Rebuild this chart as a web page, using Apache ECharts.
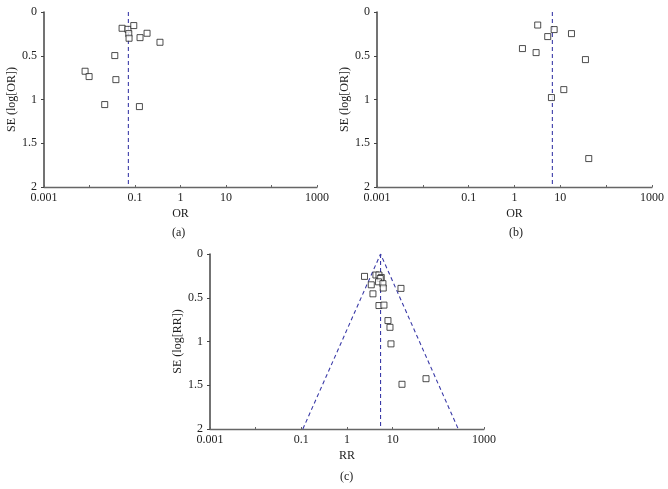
<!DOCTYPE html>
<html>
<head>
<meta charset="utf-8">
<script src="https://cdn.jsdelivr.net/npm/echarts@6/dist/echarts.min.js"></script>
<style>
  html, body { margin: 0; padding: 0; background: #fff; }
  #main { width: 668px; height: 489px; }
</style>
</head>
<body>
<div id="main"></div>
<script>
// (a) OR vs SE(log[OR])
var orA = [0.052, 0.070, 0.094, 0.073, 0.074, 0.129, 0.184, 0.354, 0.036, 0.0080, 0.0098, 0.038, 0.0216, 0.125];
var seA = [0.186, 0.198, 0.155, 0.247, 0.300, 0.293, 0.243, 0.346, 0.498, 0.677, 0.738, 0.773, 1.058, 1.081];
var pooledA = 0.0715;

// (b)
var orB = [3.21, 7.33, 5.31, 17.5, 1.49, 2.96, 35.3, 11.9, 6.4, 41.7];
var seB = [0.149, 0.201, 0.281, 0.247, 0.418, 0.464, 0.544, 0.887, 0.978, 1.675];
var pooledB = 6.7;

// (c) RR vs SE(log[RR])
var rrC = [2.42, 4.30, 5.01, 5.62, 5.35, 4.91, 3.40, 6.12, 6.22, 3.70, 15.2, 5.01, 6.44, 7.89, 8.73, 9.18, 16.0, 53.7];
var seC = [0.256, 0.240, 0.240, 0.268, 0.280, 0.318, 0.352, 0.339, 0.389, 0.455, 0.393, 0.589, 0.584, 0.761, 0.838, 1.027, 1.489, 1.425];
var pooledC = 5.43;
var funnelC = [[0.108, 2], [5.43, 0], [273, 2]];

var decadeLabels = { '-3': '0.001', '-1': '0.1', '0': '1', '1': '10', '3': '1000' };
var serif = 'Liberation Serif';
var dashBlue = '#3b3ba8';

function pairs(xs, ys) {
  var out = [];
  for (var i = 0; i < xs.length; i++) out.push([xs[i], ys[i]]);
  return out;
}

function xAx(idx, name) {
  return {
    type: 'log', logBase: 10, gridIndex: idx, min: 0.001, max: 1000, splitNumber: 6,
    position: 'bottom',
    name: name, nameLocation: 'middle', nameGap: 21,
    nameTextStyle: { fontFamily: serif, fontSize: 12, color: '#222' },
    axisLine: { onZero: false, lineStyle: { color: '#666', width: 1.3 } },
    axisTick: { show: true, inside: true, length: 2, lineStyle: { color: '#666' } },
    minorTick: { show: false },
    splitLine: { show: false },
    axisLabel: {
      fontFamily: serif, fontSize: 12, color: '#222', margin: 5, showMinLabel: true, showMaxLabel: true,
      formatter: function (v) {
        var k = Math.round(Math.log10(v));
        return decadeLabels[k] || '';
      }
    }
  };
}

function yAx(idx, name) {
  return {
    type: 'value', gridIndex: idx, min: 0, max: 2, interval: 0.5, inverse: true,
    name: name, nameLocation: 'middle', nameGap: 26, nameRotate: 90,
    nameTextStyle: { fontFamily: serif, fontSize: 12, color: '#222' },
    axisLine: { show: true, onZero: false, lineStyle: { color: '#444', width: 1.5 } },
    axisTick: { show: true, length: 3, lineStyle: { color: '#444' } },
    splitLine: { show: false },
    axisLabel: { fontFamily: serif, fontSize: 12, color: '#222', margin: 7 }
  };
}

function scatter(idx, data) {
  return {
    type: 'scatter', xAxisIndex: idx, yAxisIndex: idx, data: data,
    symbol: 'rect', symbolSize: 6,
    itemStyle: { color: '#fff', borderColor: '#222', borderWidth: 1 }, z: 3
  };
}

function dashed(idx, data) {
  return {
    type: 'line', xAxisIndex: idx, yAxisIndex: idx, data: data, symbol: 'none',
    lineStyle: { color: dashBlue, width: 1.1, type: [4, 3] }, z: 2, silent: true
  };
}

var chart = echarts.init(document.getElementById('main'), null, { renderer: 'canvas' });
chart.setOption({
  animation: false,
  grid: [
    { left: 44, top: 12, width: 273, height: 175 },
    { left: 377, top: 12, width: 275, height: 175 },
    { left: 210, top: 254, width: 274, height: 175 }
  ],
  xAxis: [xAx(0, 'OR'), xAx(1, 'OR'), xAx(2, 'RR')],
  yAxis: [yAx(0, 'SE (log[OR])'), yAx(1, 'SE (log[OR])'), yAx(2, 'SE (log[RR])')],
  series: [
    dashed(0, [[pooledA, 0], [pooledA, 2]]),
    scatter(0, pairs(orA, seA)),
    dashed(1, [[pooledB, 0], [pooledB, 2]]),
    scatter(1, pairs(orB, seB)),
    dashed(2, [[pooledC, 0], [pooledC, 2]]),
    dashed(2, funnelC),
    scatter(2, pairs(rrC, seC))
  ],
  graphic: [
    { type: 'text', left: 172, top: 227, style: { text: '(a)', font: '12px "Liberation Serif"', fill: '#222' } },
    { type: 'text', left: 509, top: 227, style: { text: '(b)', font: '12px "Liberation Serif"', fill: '#222' } },
    { type: 'text', left: 340, top: 471, style: { text: '(c)', font: '12px "Liberation Serif"', fill: '#222' } }
  ]
});
</script>
</body>
</html>
